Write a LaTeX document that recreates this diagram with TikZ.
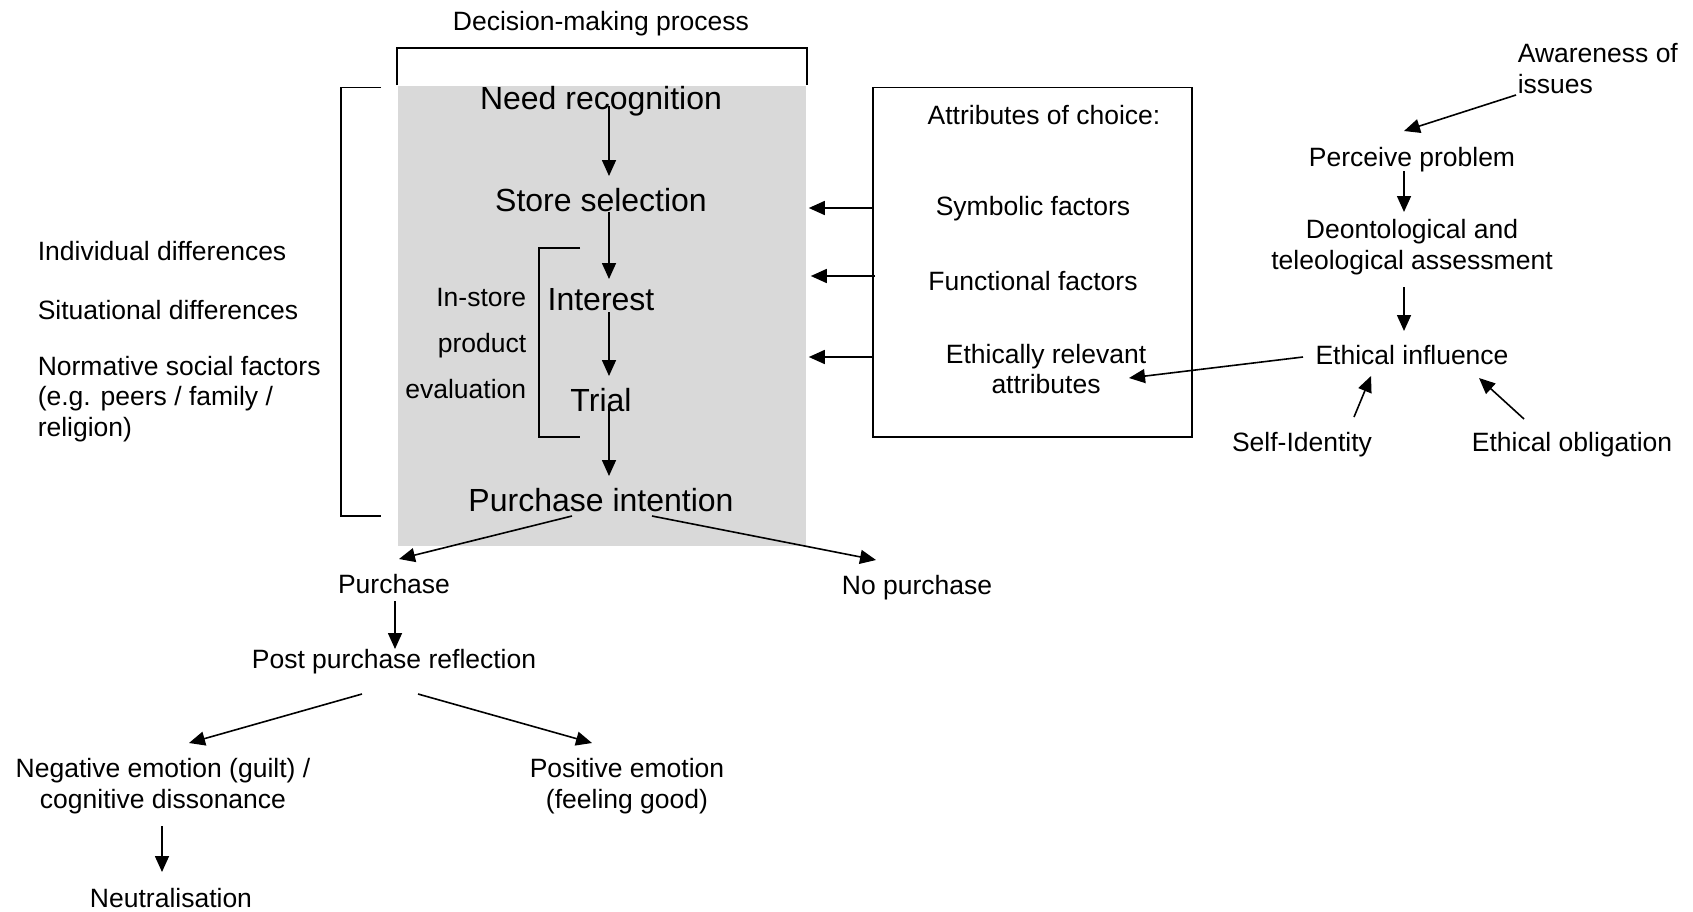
\documentclass[tikz,border=0pt]{standalone}
\usepackage{fontspec}
\setmainfont{Liberation Sans}
\usetikzlibrary{arrows.meta}
\definecolor{panelgrey}{RGB}{217,217,217}
\begin{document}
\begin{tikzpicture}[x=1pt,y=-1pt,
  line width=1.6pt,
  arr/.style={-{Triangle[length=16pt,width=14pt]}},
  small/.style={inner sep=0pt,font=\fontsize{26.5}{30.5}\selectfont},
  big/.style={inner sep=0pt,font=\fontsize{32}{36}\selectfont},
  bracketline/.style={line width=1.6pt}]
\useasboundingbox (0,0) rectangle (1693,911);

% shaded decision-making panel
\node[fill=panelgrey,minimum width=408pt,minimum height=460pt,inner sep=0pt] (dmp) at (602,316) {};
\node[small] (dmptitle) at (601,24) {Decision-making process};
\draw[bracketline] (dmp.north west) -- ++(0,-37.4) -| (dmp.north east);

% stages
\node[big] (need) at (601,101) {Need recognition};
\node[big] (store) at (601,200) {Store selection};
\node[big] (interest) at (601,300) {Interest};
\node[big] (trial) at (601,400.5) {Trial};
\node[big] (intent) at (601,500) {Purchase intention};

\draw[arr] ([shift={(8,5)}]need.center) -- ([shift={(8,-24)}]store.center);
\draw[arr] ([shift={(8,12)}]store.center) -- ([shift={(8,-21)}]interest.center);
\draw[arr] ([shift={(8,12)}]interest.center) -- ([shift={(8,-24.5)}]trial.center);
\draw[arr] ([shift={(8,5.5)}]trial.center) -- ([shift={(8,-24)}]intent.center);

% in-store evaluation bracket
\node[small,align=right,anchor=east,font=\fontsize{26.5}{46}\selectfont] (instore) at (527,344) {In-store\\product\\evaluation};
\draw[bracketline] (580,248) -- (539,248) -- (539,437) -- (580,437);

% outer bracket and external influences
\draw[bracketline] (381,87.5) -- (341,87.5) -- (341,516) -- (381,516);
\node[small,anchor=west] (indiv) at (37,251) {Individual differences};
\node[small,anchor=west] (situ) at (37,310) {Situational differences};
\node[small,anchor=west,align=left] (norm) at (37,399) {Normative social factors\\(e.g. peers / family /\\religion)};

% attributes of choice
\node[draw,minimum width=319pt,minimum height=349.5pt,inner sep=0pt] (attr) at (1032.5,262.25) {};
\node[small] (attrtitle) at (1044,115) {Attributes of choice:};
\node[small] (sym) at (1033,209) {Symbolic factors};
\node[small] (func) at (1033,281) {Functional factors};
\node[small,align=center] (ethattr) at (1046,369) {Ethically relevant\\attributes};

\draw[arr] (attr.west |- 0,208) -- ([shift={(2,0)}]dmp.east |- 0,208);
\draw[arr] ([shift={(3,0)}]attr.west |- 0,276) -- ([shift={(4,0)}]dmp.east |- 0,276);
\draw[arr] (attr.west |- 0,357) -- ([shift={(2,0)}]dmp.east |- 0,357);

% ethical decision chain
\node[small,align=left,anchor=west] (aware) at (1517,68.5) {Awareness of\\issues};
\node[small] (perceive) at (1412,160) {Perceive problem};
\node[small,align=center] (deont) at (1412,247) {Deontological and\\teleological assessment};
\node[small] (ethinf) at (1412,355) {Ethical influence};
\node[small] (selfid) at (1302,445) {Self-Identity};
\node[small] (oblig) at (1572,445) {Ethical obligation};

\draw[arr] ([shift={(-1,26.5)}]aware.west) -- ([shift={(-8,-29)}]perceive.center);
\draw[arr] ([shift={(-8,11)}]perceive.center) -- ([shift={(-8,-35)}]deont.center);
\draw[arr] ([shift={(-8,40)}]deont.center) -- ([shift={(-8,-24)}]ethinf.center);
\draw[arr] ([shift={(-109,2)}]ethinf.center) -- ([shift={(83,9)}]ethattr.center);
\draw[arr] ([shift={(52,-28)}]selfid.center) -- ([shift={(-41,21)}]ethinf.center);
\draw[arr] ([shift={(-48,-26)}]oblig.center) -- ([shift={(67,23)}]ethinf.center);

% outcomes
\node[small] (purchase) at (394,584) {Purchase};
\node[small] (nopurchase) at (917,588) {No purchase};
\node[small] (post) at (394,662) {Post purchase reflection};
\node[small,align=center] (neg) at (163,786) {Negative emotion (guilt) /\\cognitive dissonance};
\node[small,align=center] (pos) at (627,786) {Positive emotion\\(feeling good)};
\node[small] (neutral) at (171,898) {Neutralisation};

\draw[arr] ([shift={(-29,16)}]intent.center) -- ([shift={(5,-25)}]purchase.center);
\draw[arr] ([shift={(51,16)}]intent.center) -- ([shift={(-41,-28)}]nopurchase.center);
\draw[arr] ([shift={(1,17)}]purchase.center) -- ([shift={(1,-13)}]post.center);
\draw[arr] ([shift={(-32,32)}]post.center) -- ([shift={(26,-43)}]neg.center);
\draw[arr] ([shift={(24,32)}]post.center) -- ([shift={(-35,-43)}]pos.center);
\draw[arr] ([shift={(-1,40)}]neg.center) -- ([shift={(-9,-26)}]neutral.center);
\end{tikzpicture}
\end{document}
